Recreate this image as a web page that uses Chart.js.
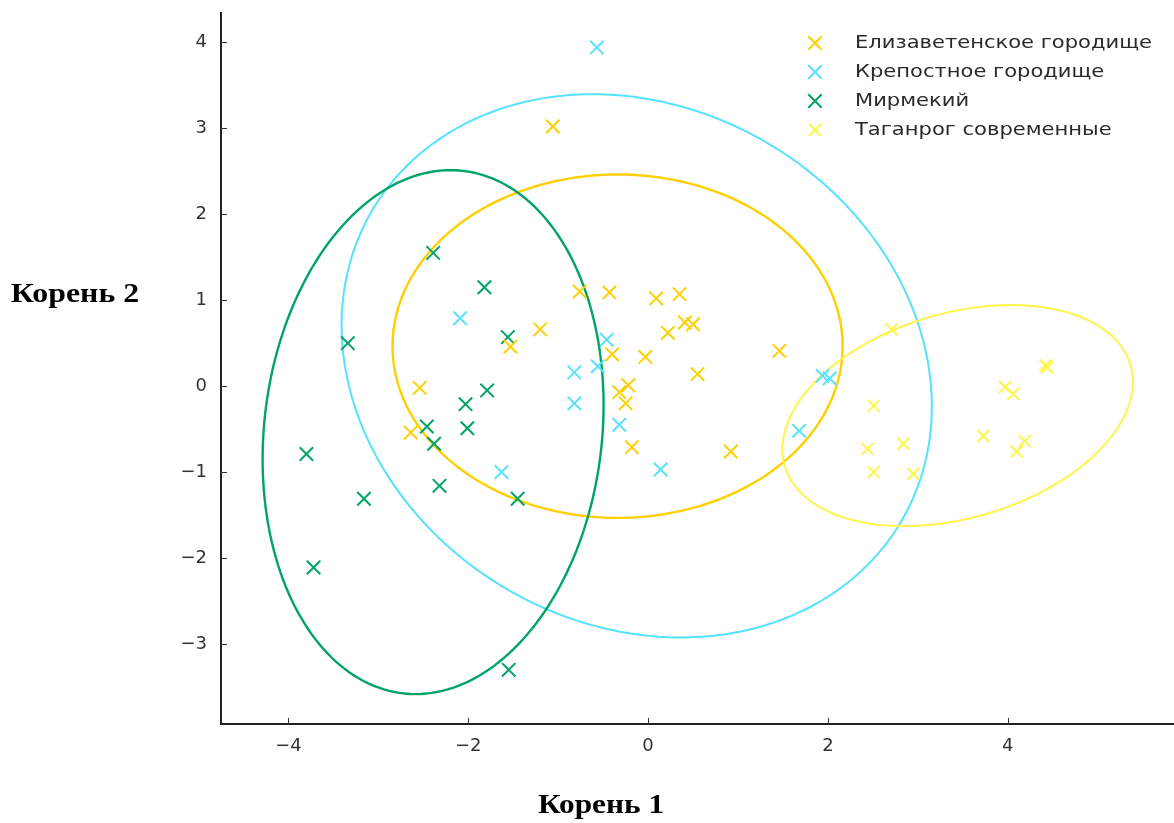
<!DOCTYPE html>
<html>
<head>
<meta charset="utf-8">
<script src="https://cdn.jsdelivr.net/npm/chart.js@4.4.0/dist/chart.umd.min.js"></script>
<style>
  html, body { margin: 0; padding: 0; background: #fff; overflow: hidden; }
  canvas { display: block; }
</style>
</head>
<body>
<canvas id="myChart" width="1174" height="823"></canvas>
<script>
// series names (legend order)
const seriesNames = ["Елизаветенское городище", "Крепостное городище", "Мирмекий", "Таганрог современные"];
const seriesColors = ["#FFD000", "#55E2FF", "#00A464", "#FFF54A"];

// point values
const elizX = [-1.06, -0.76, -0.43, 0.09, 0.35, -1.20, -1.53, 0.22, 0.41, 0.50, -0.40, -0.03, 0.55, 1.46, -2.54, -2.64, -0.22, -0.32, -0.25, -0.18, 0.92];
const elizY = [3.02, 1.10, 1.09, 1.02, 1.07, 0.66, 0.46, 0.62, 0.74, 0.72, 0.37, 0.34, 0.14, 0.41, -0.02, -0.54, 0.01, -0.07, -0.20, -0.71, -0.76];

const krepX = [-0.57, -2.09, -0.46, -0.56, -0.82, -0.82, -0.32, -1.63, 0.14, 1.94, 2.02, 1.68];
const krepY = [3.94, 0.79, 0.54, 0.23, 0.16, -0.20, -0.45, -1.00, -0.97, 0.12, 0.09, -0.52];

const mirmX = [-2.39, -1.82, -1.56, -3.34, -1.79, -2.03, -2.01, -2.46, -2.38, -3.80, -2.32, -3.16, -1.45, -3.72, -1.55];
const mirmY = [1.55, 1.15, 0.57, 0.50, -0.05, -0.21, -0.49, -0.47, -0.67, -0.79, -1.16, -1.31, -1.31, -2.11, -3.30];

const tagX = [2.71, 4.42, 4.44, 3.97, 4.06, 2.51, 3.73, 4.19, 4.10, 2.44, 2.84, 2.51, 2.95];
const tagY = [0.66, 0.24, 0.22, -0.01, -0.09, -0.23, -0.58, -0.64, -0.76, -0.73, -0.67, -1.00, -1.02];

// ellipses (data units): center, semi-axes, rotation in degrees
const ellipseCx = [-0.339, -0.126, -2.391, 3.444];
const ellipseCy = [0.465, 0.236, -0.535, -0.343];
const ellipseA = [2.503, 3.461, 3.057, 2.011];
const ellipseB = [1.997, 2.963, 1.880, 1.187];
const ellipseAngle = [0, -37.8, 84.1, 17.7];

// axis ticks and titles
const xTicks = [-4, -2, 0, 2, 4];
const yTicks = [-3, -2, -1, 0, 1, 2, 3, 4];
const xTitle = "Корень 1";
const yTitle = "Корень 2";

function toPoints(xs, ys) {
  return xs.map(function (x, i) { return { x: x, y: ys[i] }; });
}

function minusLabel(v) {
  return v < 0 ? "\u2212" + Math.abs(v) : String(v);
}

const seriesData = [toPoints(elizX, elizY), toPoints(krepX, krepY), toPoints(mirmX, mirmY), toPoints(tagX, tagY)];
const markerSize = [9.5, 9.5, 9.5, 8.5];
const ellipseWidth = [2.4, 2, 2.4, 2];

const ellipsePlugin = {
  id: "ellipses",
  beforeDatasetsDraw(chart) {
    const ctx = chart.ctx;
    const xs = chart.scales.x, ys = chart.scales.y;
    ellipseCx.forEach(function (cx, i) {
      const th = ellipseAngle[i] * Math.PI / 180;
      const a = ellipseA[i], b = ellipseB[i], cy = ellipseCy[i];
      ctx.save();
      ctx.beginPath();
      for (let k = 0; k <= 200; k++) {
        const t = k / 200 * Math.PI * 2;
        const dx = a * Math.cos(t) * Math.cos(th) - b * Math.sin(t) * Math.sin(th);
        const dy = a * Math.cos(t) * Math.sin(th) + b * Math.sin(t) * Math.cos(th);
        const px = xs.getPixelForValue(cx + dx), py = ys.getPixelForValue(cy + dy);
        if (k === 0) ctx.moveTo(px, py); else ctx.lineTo(px, py);
      }
      ctx.strokeStyle = seriesColors[i];
      ctx.lineWidth = ellipseWidth[i];
      ctx.stroke();
      ctx.restore();
    });
  }
};

function stretchedText(ctx, text, x, y, sx) {
  ctx.save();
  ctx.translate(x, y);
  ctx.scale(sx, 1);
  ctx.fillText(text, 0, 0);
  ctx.restore();
}

const decorPlugin = {
  id: "decor",
  afterDraw(chart) {
    const ctx = chart.ctx;
    const area = chart.chartArea;
    const xs = chart.scales.x, ys = chart.scales.y;
    ctx.save();
    // inward tick marks
    ctx.strokeStyle = "#333";
    ctx.lineWidth = 1;
    xTicks.forEach(function (v) {
      const px = Math.round(xs.getPixelForValue(v)) + 0.5;
      ctx.beginPath(); ctx.moveTo(px, area.bottom); ctx.lineTo(px, area.bottom - 6); ctx.stroke();
    });
    yTicks.forEach(function (v) {
      const py = Math.round(ys.getPixelForValue(v)) + 0.5;
      ctx.beginPath(); ctx.moveTo(area.left, py); ctx.lineTo(area.left + 6, py); ctx.stroke();
    });

    // legend inside the plot, top right
    seriesNames.forEach(function (name, i) {
      const ly = 43 + i * 29;
      ctx.strokeStyle = seriesColors[i];
      ctx.lineWidth = 2;
      Chart.helpers.drawPoint(ctx, { pointStyle: "crossRot", radius: markerSize[i], rotation: 0, borderWidth: 2 }, 815, ly);
      ctx.fillStyle = "#2a2a2a";
      ctx.font = "18px 'DejaVu Sans'";
      ctx.textBaseline = "middle";
      ctx.textAlign = "left";
      stretchedText(ctx, name, 855, ly, 1.17);
    });

    // axis titles
    ctx.fillStyle = "#000";
    ctx.font = "bold 27px 'Liberation Serif'";
    ctx.textAlign = "center";
    ctx.textBaseline = "middle";
    stretchedText(ctx, xTitle, 601, 806, 1.16);
    stretchedText(ctx, yTitle, 75, 295, 1.18);
    ctx.restore();
  }
};

const ctx = document.getElementById("myChart").getContext("2d");

const chart = new Chart(ctx, {
  type: "scatter",
  data: {
    datasets: seriesNames.map(function (name, i) {
      return {
        label: name,
        data: seriesData[i],
        pointStyle: "crossRot",
        pointRadius: markerSize[i],
        pointHoverRadius: markerSize[i],
        borderColor: seriesColors[i],
        backgroundColor: seriesColors[i],
        borderWidth: 2,
        pointBorderWidth: 2,
      };
    }),
  },
  options: {
    responsive: false,
    animation: false,
    layout: { autoPadding: false, padding: { top: 13, right: 0, left: 0, bottom: 0 } },
    scales: {
      x: {
        type: "linear",
        min: -4.75,
        max: 5.85,
        afterBuildTicks: function (scale) {
          scale.ticks = xTicks.map(function (v) { return { value: v }; });
        },
        afterFit: function (scale) {
          scale.height = 99;
          scale.paddingLeft = 0;
          scale.paddingRight = 0;
        },
        ticks: {
          includeBounds: false,
          padding: 12,
          color: "#333",
          font: { family: "DejaVu Sans", size: 18 },
          callback: minusLabel,
        },
        grid: { display: false, drawTicks: false },
        border: { color: "#222", width: 2 },
      },
      y: {
        type: "linear",
        min: -3.93,
        max: 4.34,
        afterBuildTicks: function (scale) {
          scale.ticks = yTicks.map(function (v) { return { value: v }; });
        },
        afterFit: function (scale) {
          scale.width = 221;
          scale.paddingTop = 0;
          scale.paddingBottom = 0;
        },
        ticks: {
          includeBounds: false,
          padding: 14,
          color: "#333",
          font: { family: "DejaVu Sans", size: 18 },
          callback: minusLabel,
        },
        grid: { display: false, drawTicks: false },
        border: { color: "#222", width: 2 },
      },
    },
    plugins: {
      legend: { display: false },
      tooltip: { enabled: false },
    },
  },
  plugins: [ellipsePlugin, decorPlugin],
});
</script>
</body>
</html>
